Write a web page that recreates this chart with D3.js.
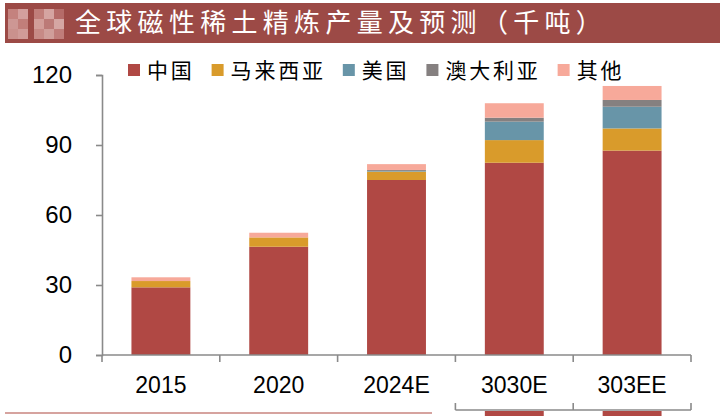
<!DOCTYPE html>
<html lang="zh">
<head>
<meta charset="UTF-8">
<title>rare-earth-stacked</title>
<script src="https://cdn.jsdelivr.net/npm/d3@7/dist/d3.min.js"></script>
<style>
  body { margin: 0; background: #fff; }
  svg { display: block; }
</style>
</head>
<body>
<svg width="720" height="416" id="mainsvg"></svg>
<script>
  // data (thousand tonnes)
  const years = ['2015', '2020', '2024E', '3030E', '303EE'];
  const seriesNames = ['中国', '马来西亚', '美国', '澳大利亚', '其他'];
  const china = [29, 46.4, 75, 82.4, 87.6];
  const malaysia = [2.7, 4.0, 3.6, 9.7, 9.5];
  const usa = [0, 0, 0.3, 7.9, 9.3];
  const australia = [0, 0, 0.4, 1.7, 2.9];
  const others = [1.6, 2.0, 2.5, 6.2, 6.0];
  const yTicks = [0, 30, 60, 90, 120];
  const title = '全球磁性稀土精炼产量及预测（千吨）';

  const colors = ['#b04844', '#d99b2b', '#6895a8', '#858080', '#f7a99a'];

  const svg = d3.select('#mainsvg');
  const margin = { top: 75, right: 29, bottom: 61, left: 102 };
  const innerWidth = 720 - margin.left - margin.right;
  const innerHeight = 416 - margin.top - margin.bottom;

  // title bar
  svg.append('rect').attr('x', 5).attr('y', 3).attr('width', 715).attr('height', 40)
    .attr('fill', '#9c4a46');
  // blurred logo mosaic
  const mosaic = [
    [8, 9, '#c98884'], [18, 9, '#d9a9a6'], [8, 19, '#d3a09c'], [18, 19, '#c58480'],
    [8, 29, '#cf9995'], [18, 29, '#d6a4a1'], [34, 9, '#c58480'], [44, 9, '#dcaeab'],
    [54, 9, '#b86f6b'], [34, 19, '#d8a6a2'], [44, 19, '#c0807c'], [54, 19, '#dcb0ad'],
    [34, 29, '#cc918d'], [44, 29, '#d6a7a3'], [54, 29, '#c4837f']
  ];
  svg.append('g').selectAll('rect').data(mosaic).join('rect')
    .attr('x', d => d[0]).attr('y', d => d[1]).attr('width', 10).attr('height', 10)
    .attr('fill', d => d[2]).attr('opacity', 0.9);
  svg.append('text').attr('x', 75).attr('y', 32)
    .attr('fill', '#fff').attr('font-family', 'Noto Sans CJK SC').attr('font-size', 26)
    .attr('letter-spacing', 5.3).text(title);

  const g = svg.append('g').attr('transform', `translate(${margin.left}, ${margin.top})`);

  const xScale = d3.scaleBand().domain(years).range([0, innerWidth]).paddingInner(0.5).paddingOuter(0.25);
  const yScale = d3.scaleLinear().domain([0, 120]).range([innerHeight, 0]);

  const table = years.map((y, i) => ({
    year: y, '中国': china[i], '马来西亚': malaysia[i], '美国': usa[i], '澳大利亚': australia[i], '其他': others[i]
  }));
  const stacked = d3.stack().keys(seriesNames)(table);

  g.selectAll('.series').data(stacked).join('g')
    .attr('class', 'series').attr('fill', (d, i) => colors[i])
    .selectAll('rect').data(d => d).join('rect')
    .attr('x', d => xScale(d.data.year))
    .attr('y', d => yScale(d[1]))
    .attr('width', xScale.bandwidth())
    .attr('height', d => yScale(d[0]) - yScale(d[1]));

  // y axis
  const yAxis = d3.axisLeft(yScale).tickValues(yTicks).tickSize(6).tickPadding(24);
  const yg = g.append('g').call(yAxis);
  yg.selectAll('text').attr('font-family', 'Liberation Sans').attr('font-size', 24).attr('fill', '#000');

  // x axis: ticks on band boundaries
  const step = xScale.step();
  const bounds = d3.range(years.length + 1).map(i => i * step);
  const xg = g.append('g').attr('transform', `translate(0, ${innerHeight})`);
  xg.append('line').attr('x1', 0).attr('x2', innerWidth).attr('y1', 0).attr('y2', 0);
  xg.selectAll('.tk').data(bounds).join('line').attr('class', 'tk')
    .attr('x1', d => d).attr('x2', d => d).attr('y1', 0).attr('y2', 7);
  xg.selectAll('text').data(years).join('text')
    .attr('x', d => xScale(d) + xScale.bandwidth() / 2).attr('y', 38)
    .attr('text-anchor', 'middle').attr('font-family', 'Liberation Sans').attr('font-size', 23)
    .attr('fill', '#000').text(d => d);

  // glitch strip under the last two categories (as in the source image)
  const gl = g.append('g').attr('transform', `translate(0, ${innerHeight + 55})`);
  const lastTwo = years.slice(3);
  gl.selectAll('rect').data(lastTwo).join('rect')
    .attr('x', d => xScale(d)).attr('y', 1).attr('width', xScale.bandwidth()).attr('height', 10)
    .attr('fill', colors[0]);
  gl.append('line').attr('x1', bounds[3]).attr('x2', bounds[5]).attr('y1', 0).attr('y2', 0);
  gl.selectAll('.tk').data(bounds.slice(3)).join('line').attr('class', 'tk')
    .attr('x1', d => d).attr('x2', d => d).attr('y1', 0).attr('y2', -7);

  svg.selectAll('line').attr('stroke', '#8a8a8a').attr('stroke-width', 1.6);
  yg.select('.domain').attr('stroke', '#8a8a8a').attr('stroke-width', 1.6);
  yg.selectAll('.tick line').attr('stroke', '#8a8a8a').attr('stroke-width', 1.6);

  // bottom rule
  svg.append('line').attr('x1', 5).attr('x2', 432).attr('y1', 413).attr('y2', 413)
    .attr('stroke', '#c8857f').attr('stroke-width', 1.5);

  // legend
  const legend = svg.append('g').attr('transform', 'translate(128, 70)');
  let lx = 0;
  seriesNames.forEach((name, i) => {
    legend.append('rect').attr('x', lx).attr('y', -6).attr('width', 12).attr('height', 12).attr('fill', colors[i]);
    const t = legend.append('text').attr('x', lx + 19).attr('y', 8)
      .attr('font-family', 'Noto Sans CJK SC').attr('font-size', 21).attr('letter-spacing', 2.8)
      .attr('fill', '#000').text(name);
    lx += 19 + t.node().getComputedTextLength() + 17;
  });
</script>
</body>
</html>
